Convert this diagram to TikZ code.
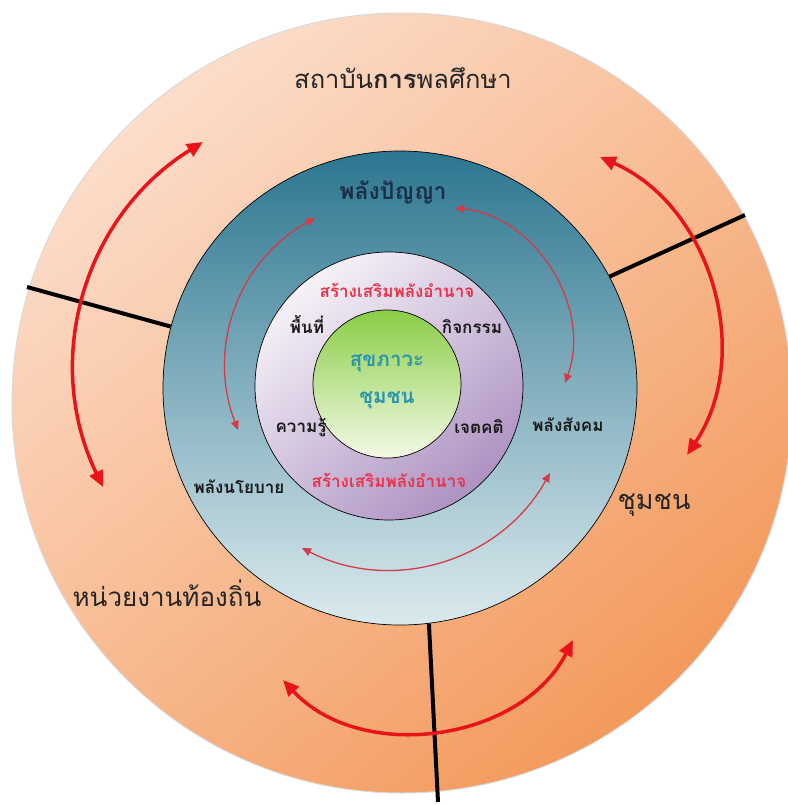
\documentclass[tikz,border=0pt]{standalone}
\usepackage{fontspec}
\newfontfamily\thaifont[Script=Thai]{Loma}
\usetikzlibrary{arrows.meta}
\definecolor{peachlight}{HTML}{FCDDCA}
\definecolor{peachdark}{HTML}{F39A5C}
\definecolor{tealdark}{HTML}{2C7690}
\definecolor{teallight}{HTML}{DCEAEE}
\definecolor{lilaclight}{HTML}{F6F2F8}
\definecolor{lilacdark}{HTML}{AD92C2}
\definecolor{limedark}{HTML}{8ACD45}
\definecolor{limelight}{HTML}{F4F9E8}
\definecolor{arrowred}{HTML}{E8141A}
\definecolor{thinred}{HTML}{D43A48}
\definecolor{labelred}{HTML}{E8334A}
\definecolor{navytext}{HTML}{1B2E48}
\definecolor{healthtext}{HTML}{2A95AE}

\begin{document}
\begin{tikzpicture}[x=1pt,y=-1pt,every node/.style={font=\thaifont},
    ring/.style={circle,draw=black,line width=0.7pt,inner sep=0pt},
    divider/.style={line width=4pt,black},
    bigarrow/.style={{Triangle[length=16pt,width=14pt]}-{Triangle[length=16pt,width=14pt]},arrowred,line width=3.5pt},
    thinarrow/.style={{Triangle[length=9pt,width=8pt]}-{Triangle[length=9pt,width=8pt]},thinred,line width=1.3pt},
    lbl/.style={font=\thaifont\bfseries\fontsize{17}{19}\selectfont,text=black!90},
    empower/.style={font=\thaifont\bfseries\fontsize{17}{19}\selectfont,text=labelred},
    partner/.style={font=\thaifont\fontsize{26}{29}\selectfont,text=black!85}]
    \useasboundingbox (0,0) rectangle (787,805);
    % rings from outside in
    \node[circle,inner sep=0pt,minimum size=780pt,draw=white!85!black,line width=1pt,
      top color=peachlight,bottom color=peachdark,shading angle=40] (outer) at (402,403) {};
    \node[ring,minimum size=474pt,top color=tealdark,bottom color=teallight] (mid) at (400,388) {};
    \node[ring,minimum size=268pt,top color=lilaclight,bottom color=lilacdark,shading angle=40] (inner) at (389,386) {};
    \node[ring,minimum size=148pt,top color=limedark,bottom color=limelight] (core) at (387,384) {};
    % dividers between the partners
    \coordinate (westend) at (27,287);
    \coordinate (eastend) at (745,215);
    \coordinate (southend) at (438,802);
    \draw[divider] (mid.165) -- (westend);
    \draw[divider] (mid.28) -- (eastend);
    \draw[divider] (mid.-83) -- (southend);
    % outer arrows
    \coordinate (a1) at (203,142); \coordinate (a2) at (103,487);
    \coordinate (b1) at (600,157); \coordinate (b2) at (687,455);
    \coordinate (c1) at (283,680); \coordinate (c2) at (573,640);
    \draw[bigarrow] (a1) to[bend right=42] (a2);
    \draw[bigarrow] (b1) to[bend left=50] (b2);
    \draw[bigarrow] (c1) to[bend right=55] (c2);
    % inner arrows
    \coordinate (d1) at (315,218); \coordinate (d2) at (238,430);
    \coordinate (e1) at (455,208); \coordinate (e2) at (565,383);
    \coordinate (f1) at (550,473); \coordinate (f2) at (302,548);
    \draw[thinarrow] (d1) to[bend right=41] (d2);
    \draw[thinarrow] (e1) to[bend left=52] (e2);
    \draw[thinarrow] (f1) to[bend left=44] (f2);
    % labels
    \node[partner,font=\thaifont\fontsize{25.5}{28}\selectfont] (institute) at (403,78) {สถาบัน\textbf{การ}พลศึกษา};
    \node[partner,font=\thaifont\fontsize{27}{30}\selectfont] (community) at (654,505) {ชุมชน};
    \node[partner] (localgov) at (167,593) {หน่วยงานท้องถิ่น};
    \node[font=\thaifont\bfseries\fontsize{23}{26}\selectfont,text=navytext] (wisdom) at (393,193) {พลังปัญญา};
    \node[lbl] (social) at (568,425) {พลังสังคม};
    \node[lbl] (policy) at (239,487) {พลังนโยบาย};
    \node[empower] (empowertop) at (397,290) {สร้างเสริมพลังอำนาจ};
    \node[empower] (empowerbot) at (389,480) {สร้างเสริมพลังอำนาจ};
    \node[lbl] (area) at (307,325) {พื้นที่};
    \node[lbl] (activity) at (472,327) {กิจกรรม};
    \node[lbl] (knowledge) at (301,427) {ความรู้};
    \node[lbl] (attitude) at (479,427) {เจตคติ};
    \node[font=\thaifont\bfseries\fontsize{20.5}{23}\selectfont,text=healthtext] (wellbeing) at (387,363) {สุขภาวะ};
    \node[font=\thaifont\bfseries\fontsize{20.5}{23}\selectfont,text=healthtext] (village) at (387,400) {ชุมชน};
\end{tikzpicture}
\end{document}
